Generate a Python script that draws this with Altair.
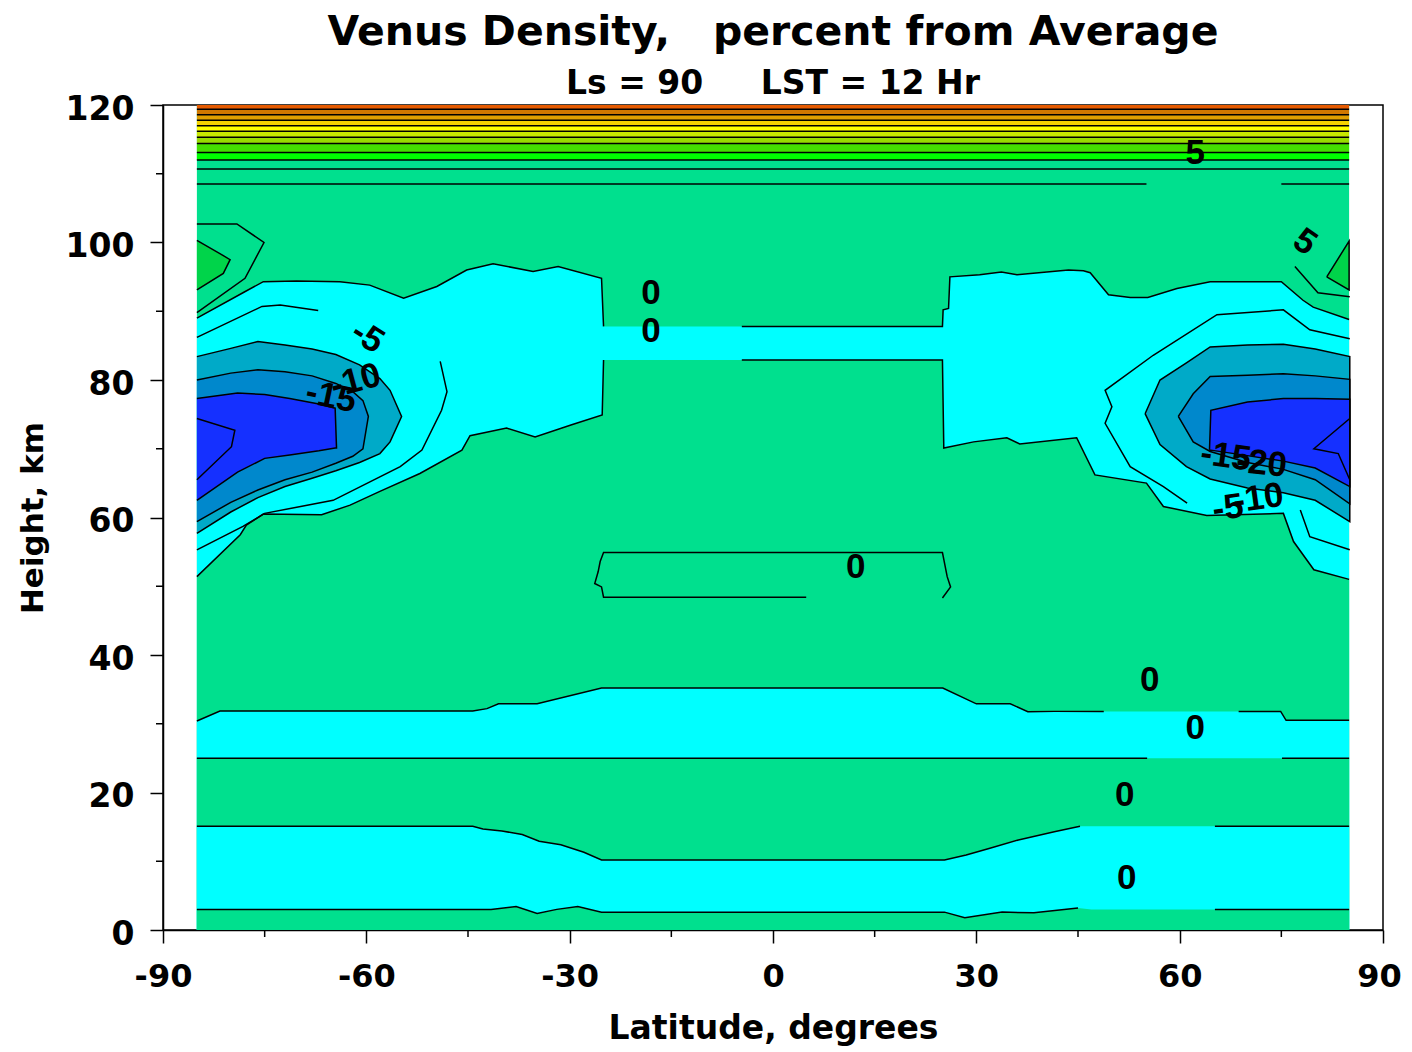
import altair as alt
import pandas as pd

# ---------------- values ----------------
LAT_LO, LAT_HI = -85, 85

GREEN = "#00E08E"
CYAN = "#00FFFF"
TEAL = "#00AAC8"
MIDBLUE = "#0088CC"
DARKBLUE = "#1530FF"
PATCH = "#00D44A"

# top layers (110-120 km)
top_band_lo = [119.4, 118.6, 117.8, 117.0, 116.2, 115.3, 114.4, 113.1, 112.0]
top_band_hi = [120.0, 119.4, 118.6, 117.8, 117.0, 116.2, 115.3, 114.4, 113.1]
top_band_col = ["#E65A00", "#D07800", "#E0A000", "#F5D200", "#FFFF00",
                "#C8E800", "#98DC00", "#44E000", "#00FF00"]
top_line_h = [119.4, 118.6, 117.8, 117.0, 116.2, 115.3, 114.4, 113.1, 112.0, 110.7]
line108_lat_a = [-85, 55.1]
line108_lat_b = [75.0, 85]
line108_h = 108.5

# upper 0 % contour (cyan region 50-97 km)
up_hi_lat = [-85, -78, -75.2, -70.3, -63.9, -59.5, -54.5, -49.6, -45.2, -41.3, -35.4, -31.7,
             -25.3, -25.0, 25.0, 25.1, 25.9, 26.1, 30.5, 33.7, 36.0, 40.4, 43.6, 45.8, 46.8,
             49.5, 52.7, 55.3, 59.6, 64.5, 69.4, 75.0, 78.2, 79.7, 85.0]
up_hi_h = [89.0, 92.8, 94.3, 94.4, 94.3, 93.8, 91.9, 93.6, 96.0, 96.9, 95.8, 96.5,
           94.8, 87.8, 87.8, 90.2, 90.4, 95.0, 95.3, 95.7, 95.3, 95.7, 96.0, 95.9, 95.6,
           92.4, 92.0, 92.0, 93.3, 94.3, 94.3, 94.3, 91.6, 90.6, 88.8]
up_lo_lat = [-85, -78.6, -77.7, -75.2, -66.6, -62.4, -58.0, -52.1, -45.9, -44.7, -39.3, -35.1,
             -29.7, -25.2, -25.0, 25.0, 25.2, 29.6, 34.5, 36.4, 44.8, 47.5, 55.1, 57.6, 64.0,
             75.3, 76.8, 79.8, 85.0]
up_lo_h = [51.4, 57.5, 58.9, 60.5, 60.4, 61.8, 63.8, 66.4, 69.8, 71.9, 73.0, 71.7,
           73.5, 74.9, 82.9, 82.9, 70.1, 71.0, 71.6, 70.7, 71.6, 66.2, 65.0, 61.6, 60.3,
           60.6, 56.5, 52.4, 51.0]
band_line_start = -4.6

# lower 0 % contours
D_lat = [-85, -81.6, -44.3, -42.2, -40.5, -34.8, -25.3, 25.05, 30.0, 35.0, 37.6, 41.5, 48.8,
         68.7, 74.9, 75.7, 85]
D_h = [30.4, 31.85, 31.85, 32.2, 32.9, 32.9, 35.2, 35.2, 32.9, 32.9, 31.75, 31.8, 31.8,
       31.8, 31.8, 30.5, 30.5]
C_lat = [-85, 55.2, 75.1, 85]
C_h = [25.0, 25.0, 25.0, 25.0]
B_lat = [-85, -44.3, -42.8, -40.0, -37.0, -34.5, -31.3, -27.9, -25.3, 25.3, 28.5, 32.0,
         36.2, 41.5, 45.3, 65.2, 85]
B_h = [15.1, 15.1, 14.7, 14.4, 13.9, 12.9, 12.4, 11.3, 10.2, 10.2, 10.9, 11.9,
       13.1, 14.3, 15.1, 15.1, 15.1]
A_lat = [-85, -41.6, -37.9, -34.8, -31.9, -28.8, -25.3, 25.3, 28.3, 33.8, 38.5, 45.0, 47.0,
         65.2, 85]
A_h = [3.0, 3.0, 3.4, 2.4, 3.0, 3.4, 2.6, 2.6, 1.8, 2.6, 2.5, 3.2, 3.0, 3.0, 3.0]
D_gap = (48.8, 68.7)
C_gap = (55.2, 75.1)
B_gap = (45.3, 65.2)
A_gap = (45.0, 65.2)

# closed 0 % contour at 48-55 km
mid0_lat = [4.9, -25.0, -25.3, -26.3, -25.8, -25.5, -25.0, 25.0, 25.7, 26.2, 25.0]
mid0_h = [48.4, 48.4, 49.9, 50.4, 52.1, 53.6, 54.9, 54.9, 51.4, 49.9, 48.3]

# -5 % contours
m5_left_a_lat = [-85, -75.4, -72.7, -67.1]
m5_left_a_h = [86.2, 90.7, 90.9, 90.1]
m5_left_b_lat = [-49.1, -48.1, -48.9, -51.8, -55.0, -64.9, -75.0, -78.2, -85]
m5_left_b_h = [82.7, 78.3, 75.6, 69.8, 67.4, 62.5, 60.6, 58.7, 55.3]
m5_right_a_lat = [85.1, 79.2, 75.3, 65.5, 56.1, 49.0, 50.0, 49.0, 52.7, 57.6, 61.1]
m5_right_a_h = [86.0, 87.3, 90.2, 89.5, 83.6, 78.5, 76.1, 73.7, 67.4, 64.5, 62.1]
m5_right_b_lat = [77.8, 79.2, 85.1]
m5_right_b_h = [61.1, 57.2, 55.3]

# minimum cells (-10, -15, -20 %)
teal_l_lat = [-85, -80, -76, -72, -68, -64.5, -61, -58, -56.5, -54.8]
teal_l_hi = [83.4, 84.6, 85.6, 85.1, 84.5, 83.7, 82.2, 80.2, 78.5, 74.7]
teal_l_lo = [57.7, 60.8, 62.9, 64.5, 65.7, 66.8, 68.0, 69.3, 71.0, 74.7]
mid_l_lat = [-85, -80, -76, -72, -68, -64.5, -62, -60.5, -59.7]
mid_l_hi = [80.0, 81.0, 81.5, 81.2, 80.6, 79.5, 78.3, 77.0, 74.7]
mid_l_lo = [59.4, 62.2, 64.0, 65.5, 66.6, 67.9, 68.9, 70.0, 74.7]
dark_l_lat = [-85, -79, -75, -71.3, -67, -64.6, -64.4]
dark_l_hi = [77.3, 78.1, 77.9, 77.3, 76.5, 75.9, 70.2]
dark_l_lo = [62.5, 66.6, 68.6, 69.1, 69.7, 70.1, 70.1]

teal_r_lat = [54.9, 57.1, 61, 64.5, 70, 75.3, 80, 85.1]
teal_r_hi = [75.1, 80.0, 82.5, 84.8, 85.1, 85.2, 84.5, 83.4]
teal_r_lo = [75.1, 70.6, 67.4, 65.6, 64.3, 63.6, 62.5, 59.4]
mid_r_lat = [59.8, 62, 64.5, 70, 75.3, 80, 85.1]
mid_r_hi = [74.7, 78.0, 80.5, 80.7, 80.9, 80.6, 80.1]
mid_r_lo = [74.7, 71.0, 69.6, 68.0, 67.0, 65.5, 62.0]
dark_r_lat = [64.4, 64.6, 70, 75.3, 80, 85.1]
dark_r_hi = [69.85, 75.6, 76.8, 77.3, 77.3, 77.2]
dark_r_lo = [69.8, 69.8, 69.0, 68.2, 67.2, 64.5]

v_l_lat = [-85, -79.4, -79.9, -85]
v_l_h = [74.4, 72.7, 70.3, 65.5]
v_r_lat = [85.1, 79.8, 83.4, 85.1]
v_r_h = [74.4, 70.0, 69.3, 65.5]

# +5 % corner cells near 100 km
p5_l_outer_lat = [-85, -79.1, -75.1, -77.9, -85]
p5_l_outer_h = [102.7, 102.7, 100.0, 94.8, 89.8]
p5_r_outer_lat = [77.0, 80.4, 85.1]
p5_r_outer_h = [96.5, 92.7, 92.1]
patch_l_lat = [-85, -81.1, -80.1]
patch_l_hi = [100.3, 98.1, 97.5]
patch_l_lo = [93.1, 95.5, 97.5]
patch_r_lat = [81.7, 85.0]
patch_r_hi = [95.0, 100.2]
patch_r_lo = [95.0, 93.1]

# contour labels
lab_text = ["0", "0", "0", "0", "0", "0", "0", "5", "5", "-5", "-10", "-15",
            "-15", "-20", "-5", "-10"]
lab_lat = [-18.0, -18.0, 12.2, 55.6, 62.3, 51.9, 52.2, 62.3, 78.5, -59.8, -61.6, -65.2,
           66.8, 72.1, 67.1, 71.6]
lab_h = [92.6, 87.2, 52.8, 36.4, 29.4, 19.6, 7.6, 113.0, 100.1, 86.3, 79.9, 77.6,
         68.9, 67.9, 61.4, 62.8]
lab_angle = [0, 0, 0, 0, 0, 0, 0, 0, 35, 32, 345, 12, 8, 6, 352, 352]

x_major = [-90, -60, -30, 0, 30, 60, 90]
x_minor = [-75, -45, -15, 15, 45, 75]
y_major = [0, 20, 40, 60, 80, 100, 120]
y_minor = [10, 30, 50, 70, 90, 110]

# ---------------- chart ----------------
FONT = "DejaVu Sans"
xs = alt.Scale(domain=[-90, 90], nice=False, zero=False)
ys = alt.Scale(domain=[0, 120], nice=False, zero=False)

x_axis = alt.Axis(values=x_major, title="Latitude, degrees", tickSize=13, labelPadding=18,
                  titlePadding=20, labelFontSize=32, titleFontSize=33, grid=False,
                  labelFlush=False, labelExpr="'' + datum.value",
                  labelOffset={"condition": {"test": "datum.value == 90", "value": -4}, "value": 0})
y_axis = alt.Axis(values=y_major, title="Height, km", tickSize=13, labelPadding=16,
                  titlePadding=16, labelFontSize=33, titleFontSize=31, grid=False,
                  labelFlush=False, labelOffset=4, labelExpr="'' + datum.value")


def X():
    return alt.X("lat:Q", scale=xs, axis=x_axis)


def Y():
    return alt.Y("h:Q", scale=ys, axis=y_axis)


bg = alt.Chart(pd.DataFrame({"lat": [LAT_LO], "lat2": [LAT_HI], "h": [0], "h2": [120]})).mark_rect(
    color=GREEN).encode(x=X(), x2="lat2:Q", y=Y(), y2="h2:Q")

bands = alt.Chart(pd.DataFrame({"lat": [LAT_LO] * len(top_band_lo), "lat2": [LAT_HI] * len(top_band_lo),
                                "h": top_band_lo, "h2": top_band_hi, "col": top_band_col})).mark_rect().encode(
    x=X(), x2="lat2:Q", y=Y(), y2="h2:Q", color=alt.Color("col:N", scale=None))


def base_area(lats, hs, color):
    return alt.Chart(pd.DataFrame({"lat": lats, "h": hs})).mark_area(
        color=color, opacity=1, interpolate="linear").encode(x=X(), y=Y(), y2=alt.datum(0))


def band_area(lats, lo, hi, color):
    return alt.Chart(pd.DataFrame({"lat": lats, "h": lo, "h2": hi})).mark_area(
        color=color, opacity=1, interpolate="linear").encode(x=X(), y=Y(), y2="h2:Q")


fills = [
    base_area(up_hi_lat, up_hi_h, CYAN),
    base_area(up_lo_lat, up_lo_h, GREEN),
    base_area(D_lat, D_h, CYAN),
    base_area(C_lat, C_h, GREEN),
    base_area(B_lat, B_h, CYAN),
    base_area(A_lat, A_h, GREEN),
    band_area(teal_l_lat, teal_l_lo, teal_l_hi, TEAL),
    band_area(mid_l_lat, mid_l_lo, mid_l_hi, MIDBLUE),
    band_area(dark_l_lat, dark_l_lo, dark_l_hi, DARKBLUE),
    band_area(teal_r_lat, teal_r_lo, teal_r_hi, TEAL),
    band_area(mid_r_lat, mid_r_lo, mid_r_hi, MIDBLUE),
    band_area(dark_r_lat, dark_r_lo, dark_r_hi, DARKBLUE),
    band_area(patch_l_lat, patch_l_lo, patch_l_hi, PATCH),
    band_area(patch_r_lat, patch_r_lo, patch_r_hi, PATCH),
]

# contour line paths
rows = []


def add_path(name, lats, hs):
    for i, (a, b) in enumerate(zip(lats, hs)):
        rows.append({"lat": a, "h": b, "seg": name, "o": i})


def add_split(name, lats, hs, gap):
    add_path(name + "_a", [a for a in lats if a <= gap[0]], [b for a, b in zip(lats, hs) if a <= gap[0]])
    add_path(name + "_b", [a for a in lats if a >= gap[1]], [b for a, b in zip(lats, hs) if a >= gap[1]])


def add_outline(name, lats, lo, hi):
    add_path(name, list(lats) + list(lats)[::-1], list(hi) + list(lo)[::-1])


for k, hh in enumerate(top_line_h):
    add_path(f"top{k}", [LAT_LO, LAT_HI], [hh, hh])
add_path("l108a", line108_lat_a, [line108_h] * 2)
add_path("l108b", line108_lat_b, [line108_h] * 2)

add_path("uphi_l", [a for a in up_hi_lat if a <= -25.0], [b for a, b in zip(up_hi_lat, up_hi_h) if a <= -25.0])
add_path("uphi_r", [band_line_start] + [a for a in up_hi_lat if a >= 25.0],
         [87.8] + [b for a, b in zip(up_hi_lat, up_hi_h) if a >= 25.0])
add_path("uplo_l", [a for a in up_lo_lat if a <= -25.0], [b for a, b in zip(up_lo_lat, up_lo_h) if a <= -25.0])
add_path("uplo_r", [band_line_start] + [a for a in up_lo_lat if a >= 25.0],
         [82.9] + [b for a, b in zip(up_lo_lat, up_lo_h) if a >= 25.0])

add_split("D", D_lat, D_h, D_gap)
add_split("C", C_lat, C_h, C_gap)
add_split("B", B_lat, B_h, B_gap)
add_split("A", A_lat, A_h, A_gap)
add_path("mid0", mid0_lat, mid0_h)
add_path("m5la", m5_left_a_lat, m5_left_a_h)
add_path("m5lb", m5_left_b_lat, m5_left_b_h)
add_path("m5ra", m5_right_a_lat, m5_right_a_h)
add_path("m5rb", m5_right_b_lat, m5_right_b_h)
add_outline("teal_l", teal_l_lat, teal_l_lo, teal_l_hi)
add_outline("mid_l", mid_l_lat, mid_l_lo, mid_l_hi)
add_outline("dark_l", dark_l_lat, dark_l_lo, dark_l_hi)
add_outline("teal_r", teal_r_lat, teal_r_lo, teal_r_hi)
add_outline("mid_r", mid_r_lat, mid_r_lo, mid_r_hi)
add_outline("dark_r", dark_r_lat, dark_r_lo, dark_r_hi)
add_path("v_l", v_l_lat, v_l_h)
add_path("v_r", v_r_lat, v_r_h)
add_path("p5lo", p5_l_outer_lat, p5_l_outer_h)
add_path("p5ro", p5_r_outer_lat, p5_r_outer_h)
add_outline("patch_l", patch_l_lat, patch_l_lo, patch_l_hi)
add_outline("patch_r", patch_r_lat, patch_r_lo, patch_r_hi)

lines = alt.Chart(pd.DataFrame(rows)).mark_line(
    color="black", strokeWidth=1.5, interpolate="linear").encode(
    x=X(), y=Y(), detail="seg:N", order="o:Q")

labels = alt.Chart(pd.DataFrame({"lat": lab_lat, "h": lab_h, "t": lab_text, "ang": lab_angle})).mark_text(
    font="Liberation Sans", fontWeight="bold", fontSize=35, color="black",
    align="center", baseline="middle").encode(
    x=X(), y=Y(), text="t:N", angle=alt.Angle("ang:Q", scale=None))

xminor = alt.Chart(pd.DataFrame({"lat": x_minor})).mark_rule(color="black", strokeWidth=1.5).encode(
    x=X(), y=alt.value(825), y2=alt.value(832))
yminor = alt.Chart(pd.DataFrame({"h": y_minor})).mark_rule(color="black", strokeWidth=1.5).encode(
    y=Y(), x=alt.value(-7), x2=alt.value(0))

chart = alt.layer(bg, bands, *fills, lines, labels, xminor, yminor).properties(
    width=1220, height=825,
    padding={"left": 155, "top": 97, "right": 21, "bottom": 118},
    autosize=alt.AutoSizeParams(type="none"),
    title=alt.TitleParams(
        text="Venus Density,\u00a0\u00a0\u00a0percent from Average",
        subtitle="Ls = 90\u00a0\u00a0\u00a0\u00a0\u00a0LST = 12 Hr",
        font=FONT, fontSize=41, fontWeight="bold", color="black",
        subtitleFont=FONT, subtitleFontSize=33, subtitleFontWeight="bold", subtitleColor="black",
        anchor="middle", frame="group", offset=-9, subtitlePadding=14),
).configure_view(stroke="black", strokeWidth=1.5).configure_axis(
    grid=False, domainColor="black", domainWidth=1.5, tickColor="black", tickWidth=1.5,
    labelColor="black", titleColor="black", labelFont=FONT, titleFont=FONT,
    labelFontWeight="bold", titleFontWeight="bold"
)

chart.save("out.html", embed_options={"renderer": "svg", "actions": False})
